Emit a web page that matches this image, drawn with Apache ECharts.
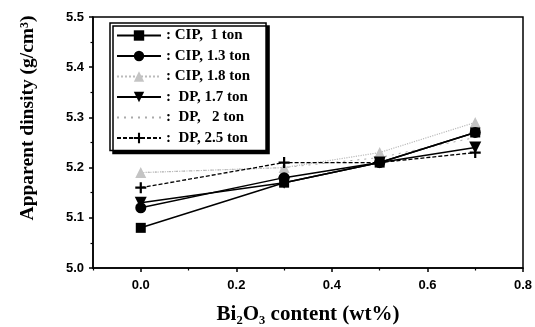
<!DOCTYPE html>
<html><head><meta charset="utf-8">
<script src="https://cdn.jsdelivr.net/npm/echarts@6/dist/echarts.min.js"></script>
<style>html,body{margin:0;padding:0;background:#fff}#c{width:535px;height:327px}</style>
</head><body><div id="c"></div>
<script>
var xValues = [0.0, 0.3, 0.5, 0.7];
var cip1 = [5.08, 5.17, 5.21, 5.27];
var cip13 = [5.12, 5.18, 5.21, 5.27];
var cip18 = [5.19, 5.20, 5.23, 5.29];
var dp17 = [5.13, 5.17, 5.21, 5.24];
var dp2 = [5.19, 5.20, 5.22, 5.26];
var dp25 = [5.16, 5.21, 5.21, 5.23];
var seriesNames = [': CIP,  1 ton', ': CIP, 1.3 ton', ': CIP, 1.8 ton', ':  DP, 1.7 ton', ':  DP,   2 ton', ':  DP, 2.5 ton'];
var xTickLabels = [0.0, 0.2, 0.4, 0.6, 0.8];
var xMinorTicks = [-0.1, 0.1, 0.3, 0.5, 0.7];

function pairs(arr){ return xValues.map(function(x,i){ return [x, arr[i]]; }); }
var plusPath = 'path://M4,0H6V4H10V6H6V10H4V6H0V4H4Z';
var serif = '"Liberation Serif","DejaVu Serif",serif';
var sans = '"Liberation Sans",Arial,sans-serif';

var chart = echarts.init(document.getElementById('c'));
chart.setOption({
  animation: false,
  backgroundColor: '#fff',
  grid: { left: 93, right: 12, top: 17, bottom: 59, outerBoundsMode: 'none', containLabel: false,
    show: true, borderColor: '#000', borderWidth: 1.5, backgroundColor: 'transparent' },
  legend: {
    orient: 'vertical', left: 110, top: 23,
    backgroundColor: '#fff', borderColor: '#000', borderWidth: 1.5,
    shadowColor: '#000', shadowBlur: 0, shadowOffsetX: 3, shadowOffsetY: 3,
    padding: [5, 16, 5, 6], itemGap: 5.5, itemWidth: 44, itemHeight: 13,
    textStyle: { fontFamily: serif, fontWeight: 'bold', fontSize: 15, color: '#000' },
    data: seriesNames
  },
  xAxis: [{
    type: 'value', min: -0.1, max: 0.8,
    axisLine: { show: true, onZero: false, lineStyle: { color: '#000', width: 1.5 } },
    axisTick: { show: true, customValues: xTickLabels, length: 4, lineStyle: { color: '#000', width: 1.5 } },
    axisLabel: { customValues: xTickLabels, margin: 11, fontFamily: sans, fontWeight: 'bold', fontSize: 13, color: '#000',
      formatter: function(v){ return v.toFixed(1); } },
    splitLine: { show: false },
    name: 'Bi\u2082O\u2083 content (wt%)', nameLocation: 'middle', nameGap: 36,
    nameTextStyle: { fontFamily: serif, fontWeight: 'bold', fontSize: 21, color: '#000' }
  }, {
    type: 'value', min: -0.1, max: 0.8, position: 'bottom',
    axisLine: { show: false, onZero: false },
    axisTick: { show: true, customValues: xMinorTicks, length: 2.5, lineStyle: { color: '#000', width: 1.2 } },
    axisLabel: { show: false }, splitLine: { show: false }
  }],
  yAxis: {
    type: 'value', min: 5.0, max: 5.5, interval: 0.1,
    axisLine: { show: true, onZero: false, lineStyle: { color: '#000', width: 1.5 } },
    axisTick: { show: true, length: 4, lineStyle: { color: '#000', width: 1.5 } },
    minorTick: { show: true, splitNumber: 2, length: 2.5, lineStyle: { color: '#000', width: 1.2 } },
    axisLabel: { margin: 9, fontFamily: sans, fontWeight: 'bold', fontSize: 13, color: '#000',
      formatter: function(v){ return v.toFixed(1); } },
    splitLine: { show: false },
    name: 'Apparent dinsity (g/cm\u00b3)', nameLocation: 'middle', nameGap: 55,
    nameTextStyle: { fontFamily: serif, fontWeight: 'bold', fontSize: 19.5, color: '#000', padding: [0, 0, 0, 49] }
  },
  series: [
    { name: seriesNames[0], type: 'line', data: pairs(cip1), symbol: 'rect', symbolSize: 10,
      itemStyle: { color: '#000' }, lineStyle: { color: '#000', width: 1.5 }, z: 5 },
    { name: seriesNames[1], type: 'line', data: pairs(cip13), symbol: 'circle', symbolSize: 11,
      itemStyle: { color: '#000' }, lineStyle: { color: '#000', width: 1.5 }, z: 5 },
    { name: seriesNames[2], type: 'line', data: pairs(cip18), symbol: 'triangle', symbolSize: 11,
      itemStyle: { color: '#c4c4c4' }, lineStyle: { color: '#bbb', width: 1.2, type: 'dotted' }, z: 3 },
    { name: seriesNames[3], type: 'line', data: pairs(dp17), symbol: 'triangle', symbolRotate: 180, symbolSize: 12,
      itemStyle: { color: '#000' }, lineStyle: { color: '#000', width: 1.5 }, z: 5 },
    { name: seriesNames[4], type: 'line', data: pairs(dp2), symbol: 'circle', symbolSize: 3,
      itemStyle: { color: '#fff', opacity: 0 }, lineStyle: { color: '#aaa', width: 1, type: [2, 5] }, z: 2 },
    { name: seriesNames[5], type: 'line', data: pairs(dp25), symbol: plusPath, symbolSize: 11,
      itemStyle: { color: '#000' }, lineStyle: { color: '#000', width: 1.3, type: [4, 2] }, z: 5 }
  ]
});
</script></body></html>
